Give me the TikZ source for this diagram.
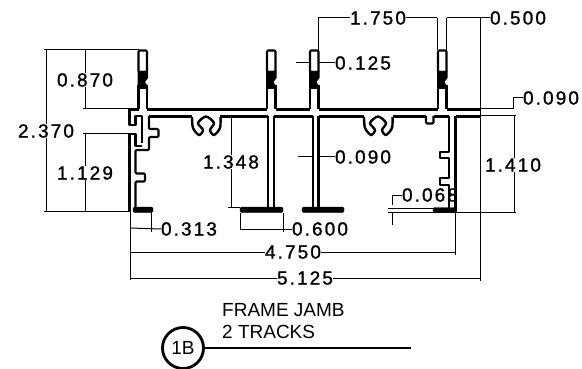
\documentclass[tikz,border=0pt]{standalone}
\usepackage{fontspec}
\setmainfont{Liberation Sans}
\newfontfamily\dimfont[LetterSpace=11,FakeBold=1.2]{Liberation Sans}
\usetikzlibrary{calc}
\tikzset{
	profile/.style={line width=2.1pt, line join=round},
	dimline/.style={line width=1pt},
	foot/.style={fill=black, rounded corners=1.5pt},
	dimlabel/.style={inner sep=0pt, font=\dimfont\fontsize{19}{19}\selectfont},
	caption/.style={inner sep=0pt, anchor=west, font=\fontsize{19}{19}\selectfont}
}

\begin{document}
\begin{tikzpicture}[x=1pt,y=-1pt]
\useasboundingbox (0,0) rectangle (582,369);

% labels
\node[dimlabel] (D2370) at (46,131) {2.370};
\node[dimlabel] (D870) at (85,80) {0.870};
\node[dimlabel] (D1129) at (85,173) {1.129};
\node[dimlabel] (D1348) at (231,162) {1.348};
\node[dimlabel] (D313) at (189,229) {0.313};
\node[dimlabel] (D600) at (320,229) {0.600};
\node[dimlabel] (D4750) at (293,252) {4.750};
\node[dimlabel] (D5125) at (305,278) {5.125};
\node[dimlabel] (D1750) at (378,18) {1.750};
\node[dimlabel] (D500) at (518,18) {0.500};
\node[dimlabel] (D125) at (363,63) {0.125};
\node[dimlabel] (D90a) at (551,98) {0.090};
\node[dimlabel] (D90b) at (363,157) {0.090};
\node[dimlabel] (D1410) at (513,165) {1.410};
\node[dimlabel] (D68) at (430,195) {0.068};

% extension and dimension lines
\coordinate (B1) at (130,211);
\coordinate (B2) at (455,212);
\coordinate (R) at (480,109);

\path[dimline] (44,50) edge (139,50)
	(44,211) edge (130,211)
	(83,109) edge (130,109)
	(83,134) edge (130,134)
	(46,50) edge (D2370.north -| 46,0)
	(46,211) edge (D2370.south -| 46,0)
	(85,50) edge (D870.north -| 85,0)
	(85,109) edge (D870.south -| 85,0)
	(85,134) edge (D1129.north -| 85,0)
	(85,211) edge (D1129.south -| 85,0);

\path[dimline] (231,118) edge (D1348.north -| 231,0)
	(231,207) edge (D1348.south -| 231,0)
	(228,207) edge (240,207);

\path[dimline] (B1) edge (130,280)
	(151,212) edge (151,232)
	(130,228) edge (D313.west)
	(240,213) edge (240,230)
	(283,213) edge (283,232)
	(240,229) edge (D600.west)
	(130,252) edge (D4750.west)
	(D4750.east) edge (455,252)
	(B2) edge (455,255)
	(130,278) edge (D5125.west)
	(D5125.east) edge (480,278);

\path[dimline] (480,18) edge (480,281)
	(318,18) edge (318,50)
	(437,18) edge (437,50)
	(446.5,18) edge (446.5,50)
	(318,18) edge (D1750.west)
	(D1750.east) edge (437,18)
	(446.5,18) edge (D500.west)
	(296,63) edge (309,63)
	(319,63) edge (D125.west)
	(298,157) edge (313,157)
	(318,157) edge (D90b.west);

\path[dimline] (447,109) edge (513,109)
	(480,116) edge (516,116)
	(513,109) edge (513,98)
	(513,98) edge (D90a.west)
	(514,116) edge (D1410.north -| 514,0)
	(514,212) edge (D1410.south -| 514,0)
	(455,212) edge (516,212);

\path[dimline] (392,225) edge (392,213)
	(392,205) edge (392,195)
	(392,195) edge (D68.west)
	(388,208) edge (433,208)
	(388,212) edge (455,212);

% fins
\foreach \fx in {138,266.5,309.5,437.5} {
	\begin{scope}[shift={(\fx,0)}]
	\draw[profile, fill=white, rounded corners=1pt] (0.5,72) -- (0.5,50.5) -- (9,50.5) -- (9,72) -- cycle;
	\fill (-0.5,71) -- (10,71) -- (10,78) -- (7,82) -- (10,87) -- (10,89) -- (-0.5,89) -- cycle;
	\draw[profile] (0.5,85) -- (0.5,109.5) (9,85) -- (9,109.5);
	\end{scope}
}

% web
\draw[profile] (138.5,109.5) -- (129.5,109.5) -- (129.5,125) -- (135.5,125) -- (135.5,116) -- (142,116) -- (142,143);
\draw[profile] (147,109.5) -- (267,109.5) (275.5,109.5) -- (310,109.5) (318.5,109.5) -- (438,109.5) (446.5,109.5) -- (480,109.5);
\draw[profile] (149,116.5) -- (192,116.5) (220,116.5) -- (268,116.5) (274,116.5) -- (313,116.5) (318.5,116.5) -- (364,116.5) (393,116.5) -- (426,116.5) (433.5,116.5) -- (449,116.5) (455.5,116.5) -- (480,116.5);
\draw[profile] (268,116) -- (268,207) (274,116) -- (274,207);
\draw[profile] (313,116) -- (313,207) (318.5,116) -- (318.5,207);
\draw[profile] (449,116) -- (449,152) -- (440,152) -- (440,158) -- (449,158) -- (449,178) -- (440,178) -- (440,185) -- (449,185) -- (449,208);
\draw[profile] (455.5,116) -- (455.5,212);
\draw[profile, rounded corners=1pt] (426,116) -- (426,123.5) -- (433.5,123.5) -- (433.5,116);

% left wall
\draw[profile] (129.5,134) -- (135.5,134) -- (135.5,146) -- (142,146);
\draw[profile, rounded corners=1pt] (149,116) -- (149,129) -- (158.5,129) -- (158.5,137) -- (149,137) -- (149,150) -- (135.5,150) -- (135.5,173.5) -- (145,173.5) -- (145,181.5) -- (135.5,181.5) -- (135.5,207);
\draw[profile] (129.5,134) -- (129.5,211);

% clips
\foreach \cx in {0,172} {
	\begin{scope}[shift={(\cx,0)}]
	\draw[profile, line width=2.4pt] plot[smooth] coordinates {(192,117) (193,128) (199,135) (203,130) (198,123) (206,116.5) (214,123) (210,130) (214,135) (220,128) (220.5,117)};
	\end{scope}
}

% feet
\draw[foot] (133,207) rectangle (153,212.5);
\draw[foot] (240,207) rectangle (283,212.5);
\draw[foot] (302,207) rectangle (344,212.5);
\draw[foot] (433,207.5) rectangle (456,212.5);

% caption
\node[caption] (Title1) at (222,310) {FRAME JAMB};
\node[caption] (Title2) at (222,332) {2 TRACKS};
\node[draw, circle, line width=2.8pt, minimum size=41pt, inner sep=0pt, font=\fontsize{19}{19}\selectfont] (Tag) at (183,348) {1B};
\coordinate (TagEnd) at (411,348);
\draw[line width=1.2pt] (Tag) -- (TagEnd);
\end{tikzpicture}
\end{document}
